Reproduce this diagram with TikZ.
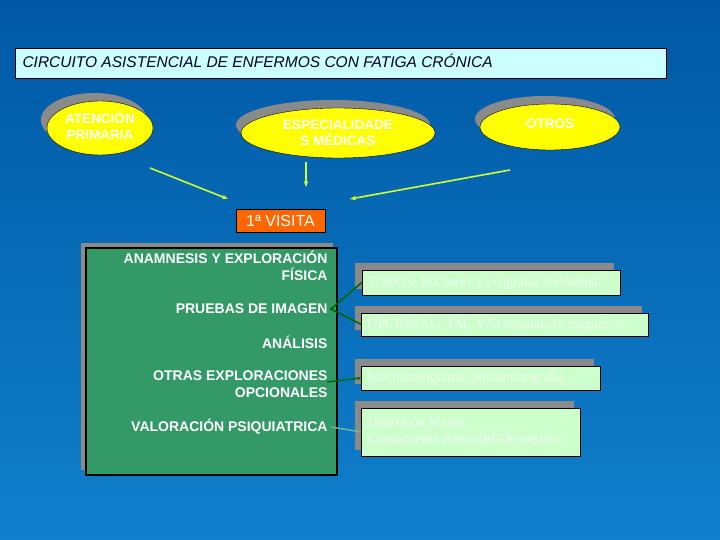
\documentclass[tikz,border=0pt]{standalone}
\usepackage{fontspec}
\setmainfont{Liberation Sans}
\newfontfamily\serifx{Liberation Serif}
\usetikzlibrary{shapes.geometric,arrows.meta}
\definecolor{bgtop}{HTML}{0058A4}
\definecolor{bgbot}{HTML}{1080CC}
\definecolor{titlef}{HTML}{CCFFFF}
\definecolor{ylw}{HTML}{FFFF00}
\definecolor{arr}{HTML}{CCFF33}
\definecolor{orng}{HTML}{FF6600}
\definecolor{grn}{HTML}{339966}
\definecolor{lgrn}{HTML}{CCFFCC}
\definecolor{ltxt}{HTML}{F0FFF0}
\definecolor{dgrn}{HTML}{006600}
\definecolor{shd}{HTML}{8A8A8A}
\tikzset{
 ell/.style={ellipse,fill=ylw,draw=black,thin,text=white,font=\bfseries\fontsize{13.5}{16}\selectfont,align=center,inner sep=0pt},
 shell/.style={ellipse,fill=shd,draw=none},
 yarr/.style={draw=arr,line width=1.6pt,-{Stealth[length=6pt]}},
 lbox/.style={fill=lgrn,draw=black,thin},
 sbox/.style={fill=shd,draw=none},
 ltext/.style={text=ltxt,font=\serifx\fontsize{14}{17}\selectfont,anchor=west,align=left},
 gtext/.style={text=white,font=\bfseries\fontsize{14}{17}\selectfont,anchor=east,align=right},
 garr/.style={draw=dgrn,line width=1.4pt,-{Stealth[length=4pt]}}
}
\begin{document}
\begin{tikzpicture}[x=1pt,y=-1pt]
\shade[top color=bgtop,bottom color=bgbot] (0,0) rectangle (720,540);
\useasboundingbox (0,0) rectangle (720,540);
% title
\node[draw=black,fill=titlef,minimum width=651pt,minimum height=30pt,inner sep=0pt] (title) at (340.5,63) {};
\node[anchor=west,font=\itshape\fontsize{15.5}{18}\selectfont,text=black!85!blue] (titlet) at (19,61) {CIRCUITO ASISTENCIAL DE ENFERMOS CON FATIGA CRÓNICA};
% ellipses
\node[shell,minimum width=106pt,minimum height=54pt] (s1) at (94,120) {};
\node[ell,minimum width=106pt,minimum height=54pt] (ap) at (100,128) {\raisebox{3pt}{\begin{tabular}{@{}c@{}}ATENCIÓN\\PRIMARIA\end{tabular}}};
\node[shell,minimum width=194pt,minimum height=50pt] (s2) at (333,125) {};
\node[ell,minimum width=194pt,minimum height=50pt] (em) at (338,133) {ESPECIALIDADE\\S MÉDICAS};
\node[shell,minimum width=140pt,minimum height=46pt] (s3) at (545,119) {};
\node[ell,minimum width=140pt,minimum height=46pt] (ot) at (550,127) {\raisebox{6pt}{OTROS}};
% visita
\node[draw=black,fill=orng,text=white,font=\fontsize{16}{18}\selectfont,minimum width=89pt,minimum height=23pt,inner sep=0pt] (vis) at (280.5,221) {1ª VISITA};
\coordinate (v1) at (228,199);
\coordinate (v2) at (306,187);
\coordinate (v3) at (350,199);
\draw[yarr] (150,168) -- (v1);
\draw[yarr] (306,162) -- (v2);
\draw[yarr] (510,170) -- (v3);
% green box
\fill[shd] (81,243) rectangle (333,470);
\draw[fill=grn,draw=black,line width=2pt] (86,248) rectangle (337,475);
\node[gtext] (g1) at (331,266) {ANAMNESIS Y EXPLORACIÓN\\FÍSICA};
\node[gtext] (g2) at (331,309) {PRUEBAS DE IMAGEN};
\node[gtext] (g3) at (331,342) {ANÁLISIS};
\node[gtext] (g4) at (331,384) {OTRAS EXPLORACIONES\\OPCIONALES};
\node[gtext] (g5) at (331,427) {VALORACIÓN PSIQUIATRICA};
% light boxes
\fill[sbox] (355,263) rectangle (614,289);
\node[lbox,minimum width=258pt,minimum height=25pt,inner sep=0pt] (b1) at (491,282.5) {};
\node[ltext] at (364,283) {TODOS:  RX torax y ecografía abdominal};
\fill[sbox] (355,306) rectangle (642,330);
\node[lbox,minimum width=287pt,minimum height=23pt,inner sep=0pt] (b2) at (505,324.5) {};
\node[ltext] at (364,325) {OPCIONAL:  TAC Y/O resonancia magnética};
\fill[sbox] (355,359) rectangle (594,384);
\node[lbox,minimum width=239pt,minimum height=24pt,inner sep=0pt] (b3) at (481,378) {};
\node[ltext] at (364,378) {Electromiograma,  polisomnografía};
\fill[sbox] (355,401) rectangle (574,450);
\node[lbox,minimum width=219pt,minimum height=48pt,inner sep=0pt] (b4) at (471,432) {};
\node[ltext] at (364,432) {Depresión Mayor\\Componente Ansiedad-Depresión};
% connectors
\draw[dgrn,line width=1.6pt] (b1.west) -- (g2.east) -- (b2.west);
\draw[garr] (g4.east) ++(-4,-2) -- (b3.west);
\draw[garr,draw=grn!70!white] (g5.east) -- (b4.west);
\end{tikzpicture}
\end{document}
